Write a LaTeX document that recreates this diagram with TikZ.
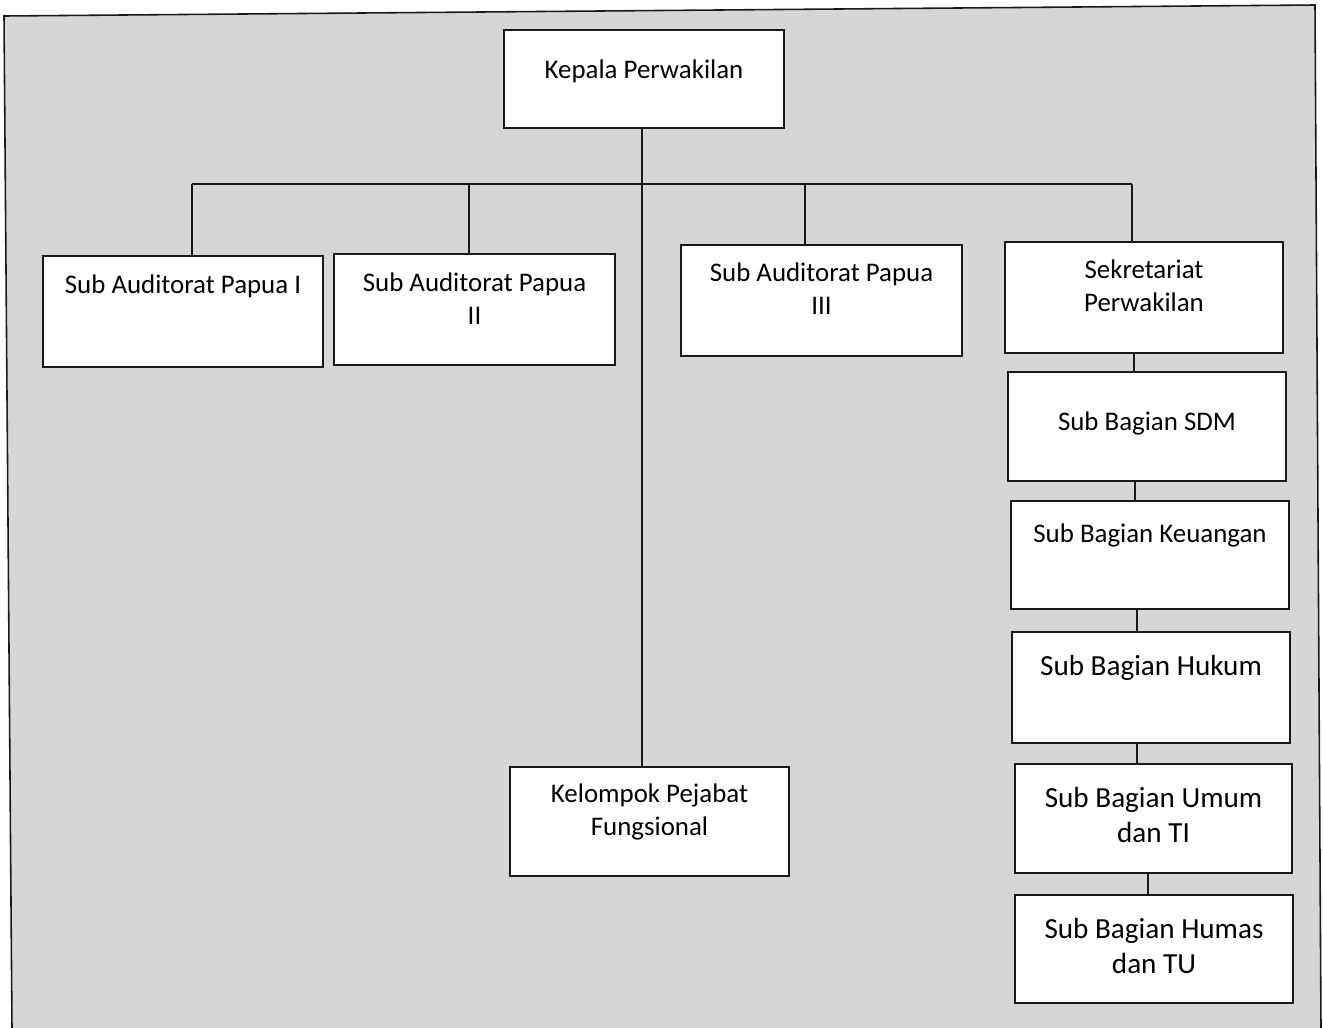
\documentclass[tikz,border=0pt]{standalone}
\usepackage{fontspec}
\setmainfont{Carlito}
\definecolor{bggray}{RGB}{214,214,214}
\definecolor{ink}{RGB}{25,25,25}
\tikzset{
  x=0.02cm, y=-0.02cm,
  obox/.style={draw=ink, fill=white, inner sep=0pt, line width=0.9pt, anchor=north},
  conn/.style={draw=ink, line width=0.9pt},
  frame/.style={draw=ink, line width=0.9pt}
}
\newcommand\bigtxt{\fontsize{16.6}{19.8}\selectfont}
% name, x1, y1, x2, y2, gap (px), text
\newcommand\orgbox[7]{%
  \node[obox] (#1) at ({(#2+#4)/2},#3)
   {\parbox[t][\dimexpr 0.02cm*(#5-#3)\relax][t]{\dimexpr 0.02cm*(#4-#2)\relax}{%
     \vspace*{\dimexpr 0.02cm*#6\relax}\centering\fontsize{15.3}{18.7}\selectfont\strut #7}};%
}
\begin{document}
\begin{tikzpicture}
\useasboundingbox (0,0) rectangle (1323,1028);
\fill[white] (0,0) rectangle (1323,1028);
\fill[bggray] (4,16) -- (1315,5) -- (1321,1028) -- (12,1028) -- cycle;
\draw[frame] (12,1028) -- (4,16) -- (1315,5) -- (1321,1028);

\orgbox{kep}{504}{29}{784}{127}{26}{Kepala Perwakilan}
\orgbox{p1}{43}{255}{323}{366}{15}{Sub Auditorat Papua I}
\orgbox{p2}{334}{253}{615}{364}{15}{Sub Auditorat Papua\\II}
\orgbox{p3}{681}{244}{962}{355}{14}{Sub Auditorat Papua\\III}
\orgbox{sek}{1005}{241}{1283}{352}{14}{Sekretariat\\Perwakilan}
\orgbox{sdm}{1008}{371}{1286}{480}{36}{Sub Bagian SDM}
\orgbox{keu}{1011}{500}{1289}{608}{19}{Sub Bagian Keuangan}
\orgbox{huk}{1012}{631}{1290}{742}{21}{\bigtxt Sub Bagian Hukum}
\orgbox{umu}{1015}{763}{1292}{872}{21}{\bigtxt Sub Bagian Umum\\dan TI}
\orgbox{hum}{1015}{894}{1293}{1002}{21}{\bigtxt Sub Bagian Humas\\dan TU}
\orgbox{kel}{510}{766}{789}{875}{13}{Kelompok Pejabat\\Fungsional}

% main trunk
\coordinate (trunk) at (642,184);
\draw[conn] (trunk |- kep.south) -- (trunk |- kel.north);
% horizontal bar and drops
\coordinate (d1) at (192,184);
\coordinate (d2) at (469,184);
\coordinate (d3) at (805,184);
\coordinate (d4) at (1132,184);
\draw[conn] (d1) -- (d4);
\draw[conn] (d1) -- (d1 |- p1.north);
\draw[conn] (d2) -- (d2 |- p2.north);
\draw[conn] (d3) -- (d3 |- p3.north);
\draw[conn] (d4) -- (d4 |- sek.north);
% secretariat chain
\coordinate (c1) at (1134,0);
\coordinate (c2) at (1135,0);
\coordinate (c3) at (1137,0);
\coordinate (c4) at (1137,0);
\coordinate (c5) at (1148,0);
\draw[conn] (c1 |- sek.south) -- (c1 |- sdm.north);
\draw[conn] (c2 |- sdm.south) -- (c2 |- keu.north);
\draw[conn] (c3 |- keu.south) -- (c3 |- huk.north);
\draw[conn] (c4 |- huk.south) -- (c4 |- umu.north);
\draw[conn] (c5 |- umu.south) -- (c5 |- hum.north);
\end{tikzpicture}
\end{document}
